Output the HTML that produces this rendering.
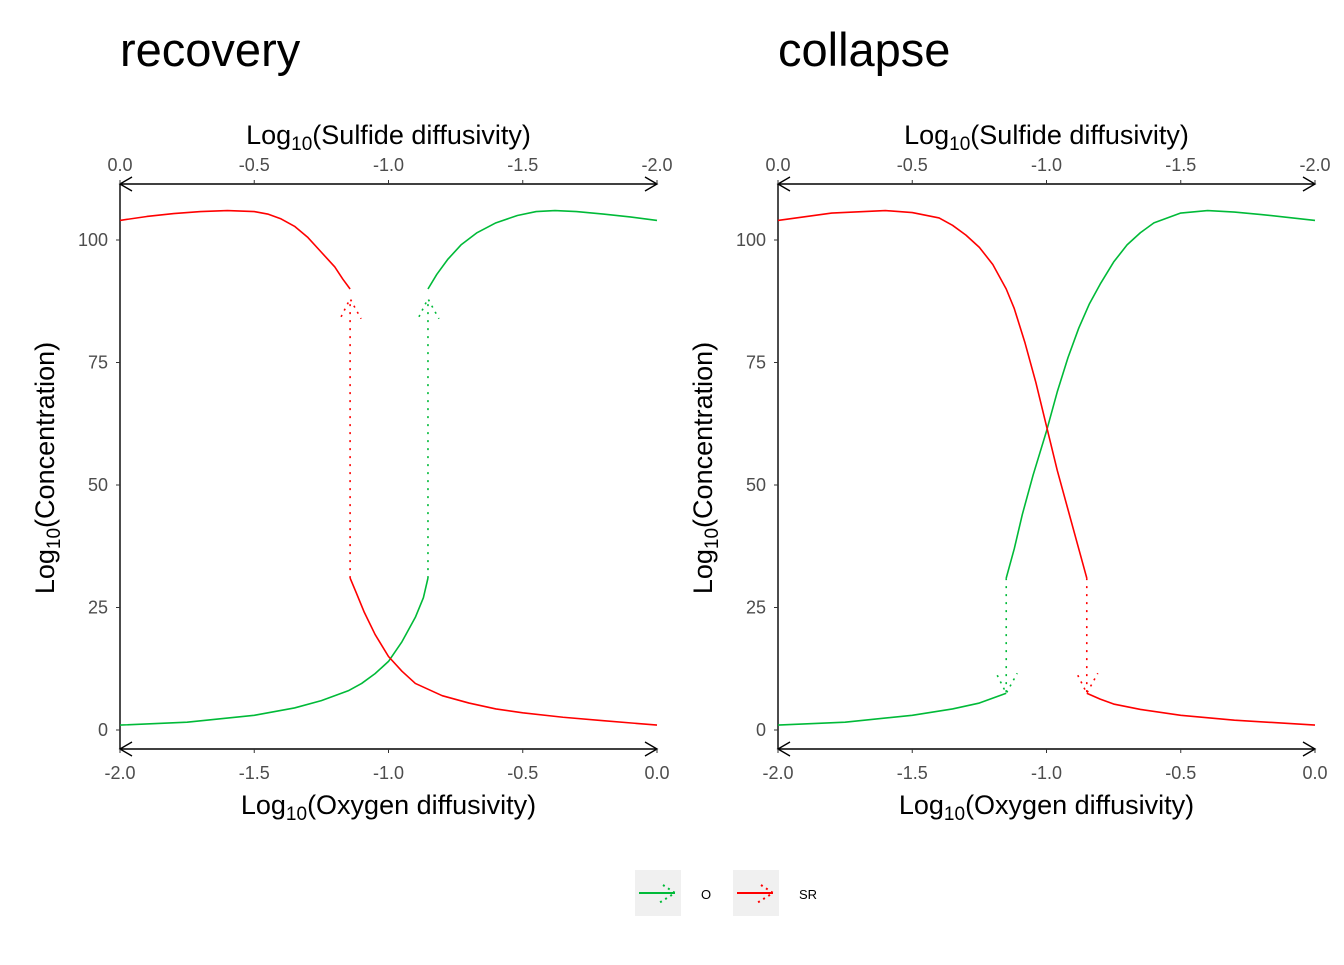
<!DOCTYPE html>
<html><head><meta charset="utf-8"><style>
body{margin:0;background:#fff;}
svg{font-family:"Liberation Sans",Arial,sans-serif;}
</style></head><body>
<svg id="c" width="1344" height="960" viewBox="0 0 1344 960"></svg>
<script>
const xTicks=[-2.0,-1.5,-1.0,-0.5,0.0];
const xTickLabels=["-2.0","-1.5","-1.0","-0.5","0.0"];
const topTickLabels=["0.0","-0.5","-1.0","-1.5","-2.0"];
const yTicks=[0,25,50,75,100];
// recovery
const recGreenLowX=[-2,-1.75,-1.5,-1.35,-1.25,-1.15,-1.1,-1.05,-1.0,-0.95,-0.9,-0.87,-0.853];
const recGreenLowY=[1,1.6,3,4.5,6,8,9.5,11.5,14,18,23,27,31];
const recGreenUpX=[-0.853,-0.82,-0.78,-0.73,-0.67,-0.6,-0.52,-0.45,-0.38,-0.3,-0.2,-0.1,0];
const recGreenUpY=[90,93,96,99,101.5,103.5,105,105.8,106,105.8,105.3,104.7,104];
const recGreenArrow=[-0.853,31,88];
const recRedUpX=[-2,-1.9,-1.8,-1.7,-1.6,-1.5,-1.45,-1.4,-1.35,-1.3,-1.25,-1.2,-1.17,-1.143];
const recRedUpY=[104,104.8,105.4,105.8,106,105.8,105.3,104.3,102.8,100.5,97.5,94.5,92,90];
const recRedLowX=[-1.143,-1.12,-1.09,-1.05,-1.0,-0.95,-0.9,-0.8,-0.7,-0.6,-0.5,-0.35,-0.2,0];
const recRedLowY=[31,28,24,19.5,15,12,9.5,7,5.5,4.3,3.5,2.6,1.9,1];
const recRedArrow=[-1.143,31,88];
// collapse
const colGreenLowX=[-2,-1.75,-1.5,-1.35,-1.25,-1.15];
const colGreenLowY=[1,1.6,3,4.3,5.5,7.5];
const colGreenUpX=[-1.15,-1.12,-1.09,-1.05,-1.0,-0.96,-0.92,-0.88,-0.84,-0.8,-0.75,-0.7,-0.65,-0.6,-0.5,-0.4,-0.3,-0.2,0];
const colGreenUpY=[31,37,44,52,61,69,76,82,87,91,95.5,99,101.5,103.5,105.5,106,105.7,105.2,104];
const colGreenArrow=[-1.15,31,7.5];
const colRedUpX=[-2,-1.8,-1.6,-1.5,-1.4,-1.35,-1.3,-1.25,-1.2,-1.15,-1.12,-1.08,-1.04,-1.0,-0.96,-0.92,-0.88,-0.85];
const colRedUpY=[104,105.5,106,105.6,104.5,103,101,98.5,95,90,86,79,71,62,53,45,37,31];
const colRedLowX=[-0.85,-0.8,-0.75,-0.65,-0.5,-0.3,0];
const colRedLowY=[7.5,6.3,5.3,4.2,3,2,1];
const colRedArrow=[-0.85,31,7.5];

const NS="http://www.w3.org/2000/svg";
const svg=document.getElementById('c');
function el(tag,attrs,parent){const e=document.createElementNS(NS,tag);for(const k in attrs)e.setAttribute(k,attrs[k]);(parent||svg).appendChild(e);return e;}
function txt(s,attrs,parent){const e=el('text',attrs,parent);e.textContent=s;return e;}
const GREEN="#00BA38";
function panel(x0,title,series){
  const x1=x0+537,yTop=184,yBot=749;
  const sx=v=>x0+(v+2)/2*(x1-x0);
  const sy=v=>730-v*4.9;
  const g=el('g',{});
  
  const t=txt(title,{x:x0,y:66,'font-size':47,fill:'#000'},g);
  
  const ax=el('g',{stroke:'#000','stroke-width':1.4,fill:'none'},g);
  
  el('line',{x1:x0,y1:yTop,x2:x1,y2:yTop},ax);
  el('line',{x1:x0,y1:yBot,x2:x1,y2:yBot},ax);
  el('line',{x1:x0,y1:yTop,x2:x0,y2:yBot},ax);
  [[x0,1],[x1,-1]].forEach(([x,d])=>{[yTop,yBot].forEach(y=>{el('polyline',{points:`${x+12*d},${y-7} ${x},${y} ${x+12*d},${y+7}`},ax);});});
  xTicks.forEach((v,i)=>{
    const x=sx(v);
    el('line',{x1:x,y1:yBot,x2:x,y2:yBot+4,stroke:'#333','stroke-width':1},g);
    el('line',{x1:x,y1:yTop,x2:x,y2:yTop-4,stroke:'#333','stroke-width':1},g);
    txt(xTickLabels[i],{x:x,y:779,'font-size':18,fill:'#4d4d4d','text-anchor':'middle'},g);
    txt(topTickLabels[i],{x:x,y:171,'font-size':18,fill:'#4d4d4d','text-anchor':'middle'},g);
  });
  yTicks.forEach(v=>{
    el('line',{x1:x0-4,y1:sy(v),x2:x0,y2:sy(v),stroke:'#333','stroke-width':1},g);
    txt(String(v),{x:x0-12,y:sy(v)+6,'font-size':18,fill:'#4d4d4d','text-anchor':'end'},g);
  });
  const xt=txt('',{x:(x0+x1)/2,y:814,'font-size':27,'text-anchor':'middle'},g);
  xt.innerHTML='Log<tspan font-size="19" dy="6">10</tspan><tspan dy="-6">(Oxygen diffusivity)</tspan>';
  
  const tt=txt('',{x:(x0+x1)/2,y:144,'font-size':27,'text-anchor':'middle'},g);
  tt.innerHTML='Log<tspan font-size="19" dy="6">10</tspan><tspan dy="-6">(Sulfide diffusivity)</tspan>';
  
  const yt=txt('',{x:0,y:0,'font-size':27,'text-anchor':'middle',transform:`translate(${x0-66},468) rotate(-90)`},g);
  yt.innerHTML='Log<tspan font-size="19" dy="6">10</tspan><tspan dy="-6">(Concentration)</tspan>';
  
  series.forEach(s=>{
    [[s.ax,s.ay],[s.bx,s.by]].forEach(([xs,ys])=>{
      const p=el('polyline',{points:xs.map((v,i)=>sx(v)+','+sy(ys[i])).join(' '),fill:'none',stroke:s.c,'stroke-width':1.6,'stroke-linejoin':'round'},g);
      
    });
    const [ax_,a0,a1]=s.arr;const X=sx(ax_),Y0=sy(a0),Y1=sy(a1);
    const a=el('line',{x1:X,y1:Y0,x2:X,y2:Y1,stroke:s.c,'stroke-width':1.6,'stroke-dasharray':'2,6'},g);
    
    const d=Y1<Y0?1:-1;
    el('polyline',{points:`${X-9},${Y1+18*d} ${X},${Y1} ${X+11},${Y1+20*d}`,fill:'none',stroke:s.c,'stroke-width':1.6,'stroke-dasharray':'2,5'},g);
  });
}
panel(120,'recovery',[
 {n:'o',c:GREEN,ax:recGreenLowX,ay:recGreenLowY,bx:recGreenUpX,by:recGreenUpY,arr:recGreenArrow},
 {n:'sr',c:'#ff0000',ax:recRedUpX,ay:recRedUpY,bx:recRedLowX,by:recRedLowY,arr:recRedArrow}]);
panel(778,'collapse',[
 {n:'o',c:GREEN,ax:colGreenLowX,ay:colGreenLowY,bx:colGreenUpX,by:colGreenUpY,arr:colGreenArrow},
 {n:'sr',c:'#ff0000',ax:colRedUpX,ay:colRedUpY,bx:colRedLowX,by:colRedLowY,arr:colRedArrow}]);
const lg=el('g',{});

[[635,GREEN,'O',701],[733,'#ff0000','SR',799]].forEach(([x,c,l,tx])=>{
  const k=el('g',{},lg);
  
  el('rect',{x:x,y:870,width:46,height:46,fill:'#f0f0f0'},k);
  el('line',{x1:x+4,y1:893,x2:x+40,y2:893,stroke:c,'stroke-width':2},k);
  el('polyline',{points:`${x+28},${885} ${x+40},${893} ${x+24},${903}`,fill:'none',stroke:c,'stroke-width':2,'stroke-dasharray':'2,4'},k);
  txt(l,{x:tx,y:899,'font-size':13,fill:'#000'},k);
});
</script>
</body></html>
